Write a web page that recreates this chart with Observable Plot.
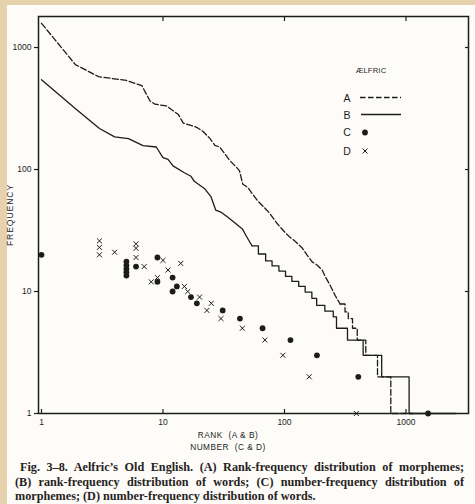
<!DOCTYPE html>
<html><head><meta charset="utf-8">
<script src="https://cdn.jsdelivr.net/npm/d3@7"></script>
<script src="https://cdn.jsdelivr.net/npm/@observablehq/plot@0.6"></script>
<style>
body{margin:0;width:475px;height:504px;background:#e6d2ad;position:relative;overflow:hidden;font-family:"Liberation Sans",sans-serif;}
#paper{position:absolute;left:7px;top:5px;width:468px;height:499px;background:#fdfcf8;}
#chart{position:absolute;left:0;top:0;}
#caption{position:absolute;left:15px;top:460px;width:449px;font-family:"Liberation Serif",serif;font-weight:bold;font-size:12.2px;line-height:14.5px;color:#262222;}
#caption div{text-align:justify;text-align-last:justify;white-space:normal;}
#caption div.last{text-align-last:left;}
</style></head>
<body>
<div id="paper"></div>
<div id="chart"></div>
<div id="caption">
<div style="padding-left:5px">Fig. 3–8. Aelfric’s Old English. (A) Rank-frequency distribution of morphemes;</div>
<div>(B) rank-frequency distribution of words; (C) number-frequency distribution of</div>
<div class="last">morphemes; (D) number-frequency distribution of words.</div>
</div>
<script>
const ink = "#1c1c1c";
// Axis ticks
const xTicks = [1, 10, 100, 1000];
const yTicks = [1, 10, 100, 1000];
// (A) rank-frequency of morphemes (dashed)
const A_head_rank = [1, 1.9, 2.95, 5.0, 6.7, 7.8, 8.6, 10.7, 13.4, 14.7, 18.9, 21.4, 24.3, 26.7, 29.3, 32.2, 35.3, 40, 42.6, 45.3, 49.7, 54.6, 60.1, 68.1, 74.8, 82.1, 87.4, 99, 109, 123, 140, 153, 169, 185, 204, 217, 238, 261, 287];
const A_head_freq = [1580, 725, 577, 537, 487, 366, 343, 332, 282, 240, 222, 205, 180, 158, 153, 135, 119, 105, 98, 76, 71.5, 63, 55.4, 48.8, 44.3, 39, 35.9, 31.2, 28.3, 25.7, 22.7, 20, 17.5, 16.5, 15, 13.2, 11.2, 9.3, 7.9];
const A_tail_rank = [287, 315, 335, 363, 397, 467, 583, 750, 1140];
const A_tail_freq = [7.9, 6.8, 6, 5, 4, 3, 2, 1, 1];
// (B) rank-frequency of words (solid)
const B_head_rank = [1, 1.94, 3, 4, 5.2, 6.85, 8.8, 10, 11, 12.1, 15, 17, 18.1, 21.9, 24.8, 27.2, 29.9, 34, 38.5, 45, 49, 54];
const B_head_freq = [545, 310, 217, 185, 179, 157, 153, 125, 121, 107, 94, 88, 80, 70, 60, 46.4, 44.8, 40.8, 37, 32.6, 28, 23.7];
const B_tail_rank = [54, 61, 70, 79, 90, 102, 115, 131, 148, 168, 184, 215, 252, 268, 330, 444, 631, 1061, 2581];
const B_tail_freq = [23.7, 20.3, 17.8, 16.2, 14.7, 13.3, 12.1, 11, 9.9, 8.8, 7.7, 6.9, 6.2, 5, 4, 3, 2, 1, 1];
// (C) number-frequency of morphemes (dots)
const C_number = [1, 5, 5, 5, 5, 5, 6, 9, 9, 12, 13, 12, 17, 19, 31, 43, 66, 112, 185, 405, 1520];
const C_freq = [20, 17.6, 16.4, 15.3, 14.4, 13.5, 16, 19, 12, 13, 11, 10, 9, 8, 7, 6, 5, 4, 3, 2, 1];
// (D) number-frequency of words (crosses)
const D_number = [3, 3, 3, 4, 6, 6, 6, 7, 10, 14, 11, 8, 9, 15, 16, 20, 25, 23, 30, 45, 69, 97, 160, 390];
const D_freq = [26, 23, 20, 21, 24.6, 22.6, 19, 16, 18, 17, 15, 12, 13, 11, 10, 9, 8, 7, 6, 5, 4, 3, 2, 1];

const pts = (xs, ys) => xs.map((x, i) => ({x, y: ys[i]}));

const plot = Plot.plot({
  width: 475, height: 460,
  marginLeft: 38, marginRight: 7, marginTop: 16, marginBottom: 47,
  style: {background: "transparent", color: ink, fontFamily: "Liberation Sans, sans-serif", fontSize: "8.5px"},
  x: {type: "log", domain: [0.945, 3270]},
  y: {type: "log", domain: [1, 1796]},
  marks: [
    Plot.axisY({anchor: "left", ticks: yTicks, tickSize: 4, tickPadding: 3, tickFormat: d => String(d), label: null, strokeWidth: 1.2}),
    Plot.axisY({anchor: "right", ticks: yTicks.slice(1), tickSize: -4, tickFormat: () => "", label: null, strokeWidth: 1.2}),
    Plot.axisX({anchor: "bottom", ticks: xTicks, tickSize: -4, tickPadding: 9, tickFormat: d => String(d), label: null, strokeWidth: 1.2}),
    Plot.axisX({anchor: "top", ticks: xTicks.slice(1), tickSize: -4, tickFormat: () => "", label: null, strokeWidth: 1.2}),
    Plot.line(pts(A_head_rank, A_head_freq), {x: "x", y: "y", stroke: ink, strokeWidth: 1.3, strokeDasharray: "6,2.5"}),
    Plot.line(pts(A_tail_rank, A_tail_freq), {x: "x", y: "y", stroke: ink, strokeWidth: 1.3, strokeDasharray: "6,2.5", curve: "step-after"}),
    Plot.line(pts(B_head_rank, B_head_freq), {x: "x", y: "y", stroke: ink, strokeWidth: 1.3}),
    Plot.line(pts(B_tail_rank, B_tail_freq), {x: "x", y: "y", stroke: ink, strokeWidth: 1.3, curve: "step-after"}),
    Plot.dot(pts(C_number, C_freq), {x: "x", y: "y", r: 2.9, fill: ink, stroke: "none"}),
    Plot.dot(pts(D_number, D_freq), {x: "x", y: "y", r: 2.4, symbol: "times", stroke: ink, strokeWidth: 1}),
    Plot.frame({stroke: ink, strokeWidth: 1.5})
  ]
});
document.getElementById("chart").appendChild(plot);

// axis titles and legend
const svg = d3.select(plot);
const g = svg.append("g").attr("fill", ink).attr("font-family", "Liberation Sans, sans-serif");
g.append("text").attr("x", 228).attr("y", 438).attr("font-size", 8.3).attr("letter-spacing", 0.5).text("RANK  (A & B)");
g.append("text").attr("x", 228).attr("y", 450).attr("font-size", 8.3).attr("letter-spacing", 0.5).text("NUMBER  (C & D)");
g.append("text").attr("transform", "translate(13,215) rotate(-90)").attr("text-anchor", "middle")
  .attr("font-size", 8.6).attr("letter-spacing", 0.9).text("FREQUENCY");

const lg = svg.append("g").attr("fill", ink).attr("font-family", "Liberation Sans, sans-serif");
lg.append("text").attr("x", 371).attr("y", 73).attr("text-anchor", "middle").attr("font-size", 7.6).attr("letter-spacing", 0.2).text("ÆLFRIC");
const rows = [["A", 98], ["B", 115.5], ["C", 132.5], ["D", 151]];
rows.forEach(([k, y]) => lg.append("text").attr("x", 347).attr("y", y + 3.8).attr("text-anchor", "middle").attr("font-size", 10.5).text(k));
lg.append("line").attr("x1", 360).attr("x2", 401).attr("y1", 97.5).attr("y2", 97.5).attr("stroke", ink).attr("stroke-width", 1.3).attr("stroke-dasharray", "5.5,2.5");
lg.append("line").attr("x1", 361).attr("x2", 401).attr("y1", 114.5).attr("y2", 114.5).attr("stroke", ink).attr("stroke-width", 1.3);
lg.append("circle").attr("cx", 365).attr("cy", 132.5).attr("r", 2.9);
lg.append("path").attr("d", d3.symbol(d3.symbolTimes, Math.PI * 2.4 * 2.4)()).attr("transform", "translate(365,151)").attr("fill", "none").attr("stroke", ink);
</script>
</body></html>
